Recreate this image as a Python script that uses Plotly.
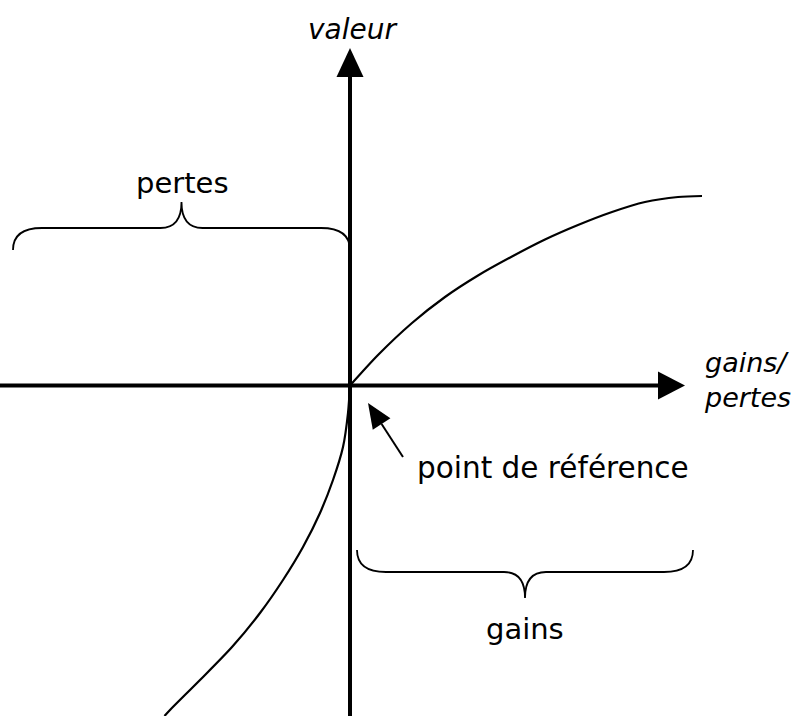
import numpy as np
import plotly.graph_objects as go

# value function (1 unit = 10 px)
gain_x = [0, 2.8, 6.2, 9.5, 12.8, 16.2, 19.5, 22.8, 26.2, 29.5, 32.8, 35.2]
gain_v = [0, 3.05, 6.25, 8.85, 11.0, 12.9, 14.6, 16.05, 17.35, 18.35, 18.85, 18.95]
loss_x = [0, -0.2, -0.7, -1.7, -3.0, -4.7, -6.7, -9.0, -11.8, -15.0, -18.0, -18.55]
loss_v = [0, -2.75, -6.15, -9.45, -12.75, -16.15, -19.45, -22.75, -26.15, -29.45, -32.45, -33.05]

# brace spans: (x0, x1, end y, middle y, tip y)
brace_pertes = (-33.7, 0.0, 13.55, 15.75, 18.35)
brace_gains = (0.7, 34.3, -16.45, -18.65, -21.25)

x_range = [-35.0, 44.5]
y_range = [-33.05, 38.55]

FONT = "DejaVu Sans"

fig = go.Figure()
for xs, vs in ((gain_x, gain_v), (loss_x, loss_v)):
    fig.add_trace(go.Scatter(x=xs, y=vs, mode="lines",
                             line=dict(color="black", width=2.2, shape="spline", smoothing=0.8),
                             hoverinfo="skip"))


def brace(x0, x1, ye, ym, yt, r=2.9, rt=2.1):
    xc = (x0 + x1) / 2
    return (f"M{x0},{ye} Q{x0},{ym} {x0 + r},{ym} L{xc - rt},{ym} Q{xc},{ym} {xc},{yt} "
            f"Q{xc},{ym} {xc + rt},{ym} L{x1 - r},{ym} Q{x1},{ym} {x1},{ye}")


def tri(tip, base, half):
    tip = np.array(tip, float)
    base = np.array(base, float)
    d = tip - base
    n = np.array([-d[1], d[0]]) / np.hypot(*d) * half
    a, b = base + n, base - n
    return f"M{tip[0]},{tip[1]} L{a[0]},{a[1]} L{b[0]},{b[1]} Z"


shapes = []
# axes
shapes.append(dict(type="line", x0=x_range[0], x1=31.0, y0=0, y1=0, line=dict(color="black", width=4)))
shapes.append(dict(type="line", x0=0, x1=0, y0=y_range[0], y1=31.0, line=dict(color="black", width=4)))
shapes.append(dict(type="path", path=tri((33.5, 0), (30.8, 0), 1.4), fillcolor="black", line=dict(width=0)))
shapes.append(dict(type="path", path=tri((0, 33.75), (0, 30.85), 1.35), fillcolor="black", line=dict(width=0)))
# braces
for b in (brace_pertes, brace_gains):
    shapes.append(dict(type="path", path=brace(*b), line=dict(color="black", width=1.8)))
# reference point arrow
tip = np.array([1.8, -1.75])
tail = np.array([5.3, -7.15])
u = (tip - tail) / np.hypot(*(tip - tail))
base = tip - 2.5 * u
shapes.append(dict(type="line", x0=tail[0], y0=tail[1], x1=base[0], y1=base[1],
                   line=dict(color="black", width=2)))
shapes.append(dict(type="path", path=tri(tip, base, 1.05), fillcolor="black", line=dict(width=0)))

annotations = [
    dict(x=0.2, y=35.65, text="valeur", font=dict(size=28, style="italic")),
    dict(x=-16.8, y=20.25, text="pertes", font=dict(size=29)),
    dict(x=17.5, y=-24.35, text="gains", font=dict(size=29)),
    dict(x=6.5, y=-8.25, text="point de référence", xanchor="left", font=dict(size=29.5)),
    dict(x=35.2, y=0.6, text="gains/<br>pertes", xanchor="left", align="left",
         font=dict(size=27, style="italic")),
]
for a in annotations:
    a.update(showarrow=False, xref="x", yref="y", yanchor="middle")
    a.setdefault("xanchor", "center")
    a["font"].update(family=FONT, color="black")

fig.update_layout(
    width=795, height=716,
    margin=dict(l=0, r=0, t=0, b=0),
    paper_bgcolor="white", plot_bgcolor="white",
    showlegend=False,
    xaxis=dict(range=x_range, visible=False, fixedrange=True),
    yaxis=dict(range=y_range, visible=False, fixedrange=True),
    shapes=shapes, annotations=annotations,
)

fig.write_html("out.html", config={"displayModeBar": False},
               post_script="document.body.style.margin='0';document.body.style.overflow='hidden';")
